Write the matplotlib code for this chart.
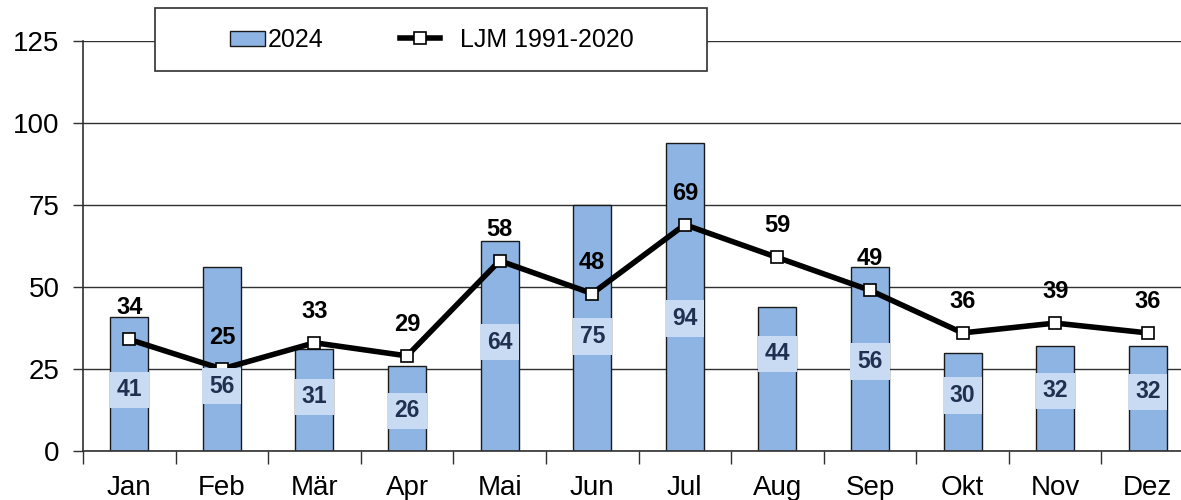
import matplotlib.pyplot as plt
from matplotlib.patches import Rectangle
import numpy as np

plt.rcParams['font.family'] = ['Liberation Sans', 'DejaVu Sans']

months = ['Jan', 'Feb', 'Mär', 'Apr', 'Mai', 'Jun', 'Jul', 'Aug', 'Sep', 'Okt', 'Nov', 'Dez']
precip_2024 = [41, 56, 31, 26, 64, 75, 94, 44, 56, 30, 32, 32]
ljm_1991_2020 = [34, 25, 33, 29, 58, 48, 69, 59, 49, 36, 39, 36]
# where the bar value boxes sit (data units)
bar_label_y = [18.6, 19.8, 16.5, 12.2, 33.2, 35.0, 40.5, 29.6, 27.4, 17.0, 18.3, 18.0]

x = np.arange(len(months))

fig = plt.figure(figsize=(11.81, 5.0), dpi=100)
ax = fig.add_axes([83 / 1181, 49 / 500, 1111 / 1181, 410 / 500])

ax.set_axisbelow(True)
ax.yaxis.grid(True, color='#303030', linewidth=1.0)

bars = ax.bar(x, precip_2024, width=0.41, color='#8db4e2', edgecolor='#1a1a1a',
              linewidth=1.0, label='2024', zorder=2)
line, = ax.plot(x, ljm_1991_2020, color='black', linewidth=4, marker='s', markersize=8,
                markerfacecolor='white', markeredgecolor='black', markeredgewidth=1.2,
                label='LJM 1991-2020', zorder=3)

for i, v in enumerate(precip_2024):
    ax.text(x[i], bar_label_y[i], str(v), ha='center', va='center', fontsize=16.5,
            fontweight='bold', color='#1f3050', zorder=4,
            bbox=dict(boxstyle='square,pad=0.3', facecolor='#c9dbf2', edgecolor='none'))

for i, v in enumerate(ljm_1991_2020):
    ax.text(x[i], v, str(v), ha='center', va='bottom', fontsize=17, fontweight='bold',
            color='black', zorder=4,
            transform=ax.transData + plt.matplotlib.transforms.ScaledTranslation(0, 0.2, fig.dpi_scale_trans))

ax.set_xlim(-0.5, 11.5)
ax.set_ylim(0, 125)
ax.set_yticks([0, 25, 50, 75, 100, 125])
ax.tick_params(axis='y', labelsize=20, length=7, width=1, color='#303030', pad=10)

ax.set_xticks(np.arange(-0.5, 12, 1))
ax.set_xticklabels([])
ax.set_xticks(x, minor=True)
ax.set_xticklabels(months, minor=True)
ax.tick_params(axis='x', which='major', length=9, width=1, color='#303030', direction='out')
ax.tick_params(axis='x', which='minor', length=0, labelsize=20, pad=17)

for s in ['top', 'right']:
    ax.spines[s].set_visible(False)
for s in ['left', 'bottom']:
    ax.spines[s].set_color('#303030')
    ax.spines[s].set_linewidth(1.2)

# legend box sitting over the top of the plot
box = Rectangle((155 / 1181, 1 - 71 / 500), 552 / 1181, 63 / 500, transform=fig.transFigure,
                facecolor='white', edgecolor='#303030', linewidth=1.2, zorder=5)
fig.patches.append(box)
leg1 = fig.legend([bars], ['2024'], loc='center left', bbox_to_anchor=(230 / 1181, 1 - 40 / 500),
                  bbox_transform=fig.transFigure, fontsize=18, frameon=False, handlelength=1.4,
                  handleheight=0.55, handletextpad=0.1, borderpad=0, borderaxespad=0)
leg2 = fig.legend([line], ['LJM 1991-2020'], loc='center left', bbox_to_anchor=(400 / 1181, 1 - 40 / 500),
                  bbox_transform=fig.transFigure, fontsize=18, frameon=False, handlelength=1.6,
                  handletextpad=0.8, borderpad=0, borderaxespad=0)
leg1.set_zorder(6)
leg2.set_zorder(6)

fig.savefig('out.png', dpi=100)
